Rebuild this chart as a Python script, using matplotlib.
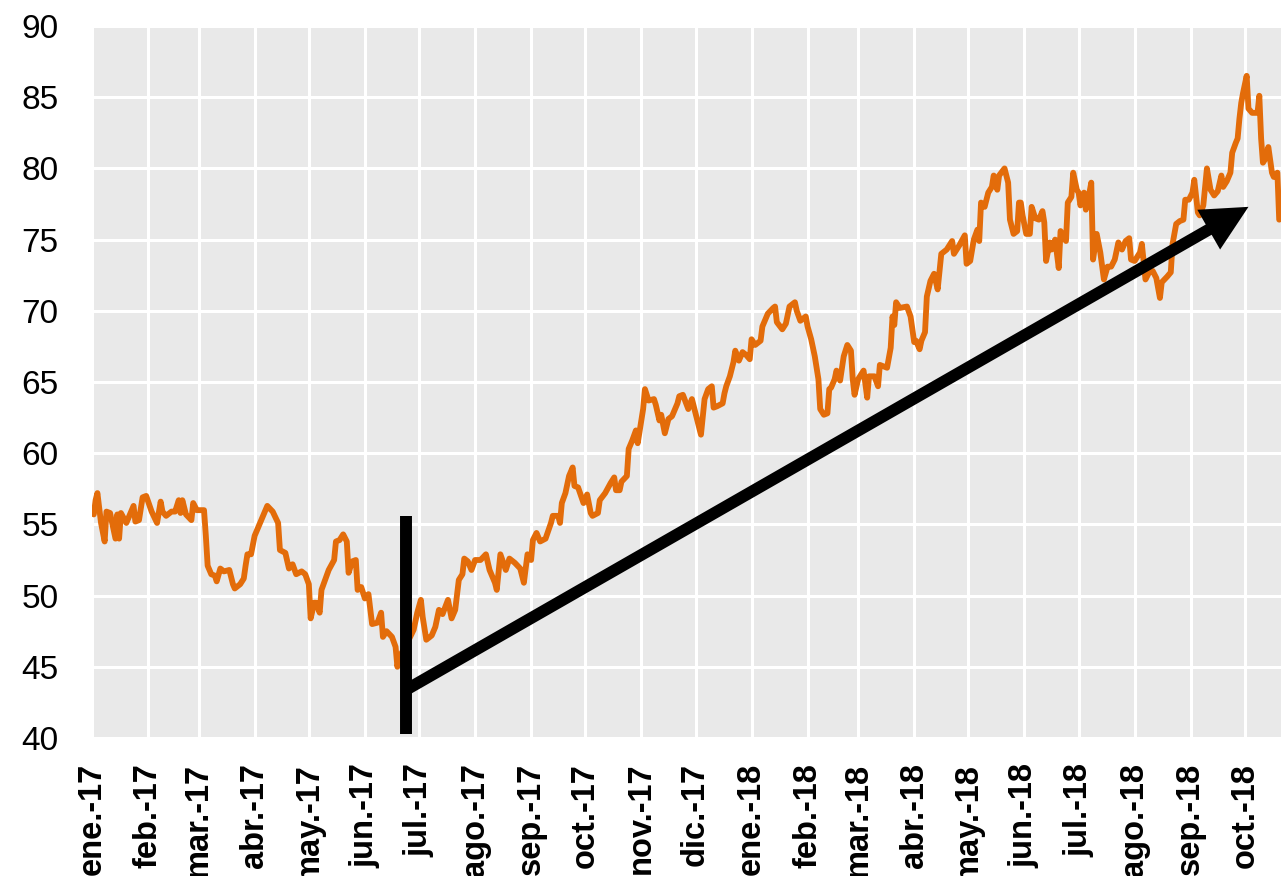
import matplotlib
matplotlib.use("Agg")
import matplotlib.pyplot as plt
import matplotlib.dates as mdates
import pandas as pd

plt.rcParams["font.family"] = ["Liberation Sans", "DejaVu Sans"]

# Brent price (USD/bbl), one line per month
brent_dates = [
    "2017-01-02", "2017-01-03", "2017-01-04", "2017-01-06", "2017-01-08", "2017-01-09", "2017-01-11", "2017-01-14", "2017-01-15", "2017-01-16", "2017-01-17", "2017-01-20", "2017-01-24", "2017-01-25", "2017-01-27", "2017-01-29", "2017-01-31",
    "2017-02-03", "2017-02-06", "2017-02-08", "2017-02-09", "2017-02-11", "2017-02-14", "2017-02-16", "2017-02-18", "2017-02-19", "2017-02-20", "2017-02-22", "2017-02-25", "2017-02-26", "2017-02-28",
    "2017-03-04", "2017-03-05", "2017-03-06", "2017-03-08", "2017-03-10", "2017-03-11", "2017-03-13", "2017-03-15", "2017-03-18", "2017-03-20", "2017-03-21", "2017-03-24", "2017-03-26", "2017-03-27", "2017-03-28", "2017-03-30",
    "2017-04-01", "2017-04-04", "2017-04-07", "2017-04-08", "2017-04-11", "2017-04-14", "2017-04-15", "2017-04-18", "2017-04-20", "2017-04-22", "2017-04-24", "2017-04-27", "2017-04-29",
    "2017-05-01", "2017-05-02", "2017-05-04", "2017-05-05", "2017-05-07", "2017-05-08", "2017-05-10", "2017-05-12", "2017-05-15", "2017-05-16", "2017-05-18", "2017-05-20", "2017-05-22", "2017-05-23", "2017-05-25", "2017-05-27", "2017-05-28", "2017-05-30",
    "2017-06-01", "2017-06-03", "2017-06-05", "2017-06-08", "2017-06-10", "2017-06-11", "2017-06-13", "2017-06-16", "2017-06-18", "2017-06-19", "2017-06-20", "2017-06-23", "2017-06-28", "2017-06-30",
    "2017-07-02", "2017-07-03", "2017-07-05", "2017-07-08", "2017-07-10", "2017-07-12", "2017-07-14", "2017-07-17", "2017-07-19", "2017-07-21", "2017-07-23", "2017-07-25", "2017-07-26", "2017-07-28", "2017-07-30",
    "2017-08-01", "2017-08-04", "2017-08-07", "2017-08-09", "2017-08-12", "2017-08-13", "2017-08-15", "2017-08-18", "2017-08-20", "2017-08-23", "2017-08-26", "2017-08-28", "2017-08-30",
    "2017-09-01", "2017-09-02", "2017-09-04", "2017-09-06", "2017-09-09", "2017-09-12", "2017-09-13", "2017-09-16", "2017-09-17", "2017-09-18", "2017-09-20", "2017-09-22", "2017-09-24", "2017-09-25", "2017-09-27", "2017-09-30",
    "2017-10-02", "2017-10-04", "2017-10-05", "2017-10-08", "2017-10-09", "2017-10-12", "2017-10-15", "2017-10-17", "2017-10-18", "2017-10-20", "2017-10-21", "2017-10-24", "2017-10-25", "2017-10-27", "2017-10-29", "2017-10-30",
    "2017-11-02", "2017-11-03", "2017-11-05", "2017-11-08", "2017-11-09", "2017-11-11", "2017-11-12", "2017-11-14", "2017-11-16", "2017-11-18", "2017-11-21", "2017-11-22", "2017-11-24", "2017-11-27", "2017-11-29",
    "2017-12-01", "2017-12-04", "2017-12-06", "2017-12-08", "2017-12-10", "2017-12-11", "2017-12-13", "2017-12-16", "2017-12-17", "2017-12-18", "2017-12-20", "2017-12-22", "2017-12-23", "2017-12-25", "2017-12-27", "2017-12-29", "2017-12-31",
    "2018-01-01", "2018-01-03", "2018-01-06", "2018-01-07", "2018-01-10", "2018-01-13", "2018-01-14", "2018-01-15", "2018-01-18", "2018-01-20", "2018-01-22", "2018-01-25", "2018-01-26", "2018-01-28", "2018-01-31",
    "2018-02-01", "2018-02-03", "2018-02-05", "2018-02-07", "2018-02-08", "2018-02-10", "2018-02-12", "2018-02-13", "2018-02-14", "2018-02-16", "2018-02-17", "2018-02-19", "2018-02-21", "2018-02-23", "2018-02-25", "2018-02-26", "2018-02-27",
    "2018-03-01", "2018-03-04", "2018-03-06", "2018-03-07", "2018-03-10", "2018-03-12", "2018-03-13", "2018-03-17", "2018-03-19", "2018-03-20", "2018-03-21", "2018-03-22", "2018-03-24", "2018-03-28", "2018-03-30",
    "2018-04-01", "2018-04-02", "2018-04-04", "2018-04-05", "2018-04-07", "2018-04-08", "2018-04-10", "2018-04-12", "2018-04-14", "2018-04-16", "2018-04-19", "2018-04-22", "2018-04-23", "2018-04-26", "2018-04-29", "2018-04-30",
    "2018-05-02", "2018-05-04", "2018-05-06", "2018-05-07", "2018-05-08", "2018-05-10", "2018-05-12", "2018-05-14", "2018-05-15", "2018-05-17", "2018-05-18", "2018-05-21", "2018-05-23", "2018-05-24", "2018-05-26", "2018-05-28", "2018-05-29", "2018-05-30", "2018-05-31",
    "2018-06-02", "2018-06-04", "2018-06-05", "2018-06-07", "2018-06-09", "2018-06-11", "2018-06-12", "2018-06-13", "2018-06-15", "2018-06-16", "2018-06-18", "2018-06-20", "2018-06-21", "2018-06-22", "2018-06-24", "2018-06-25", "2018-06-27", "2018-06-28", "2018-06-30",
    "2018-07-01", "2018-07-02", "2018-07-04", "2018-07-05", "2018-07-06", "2018-07-08", "2018-07-09", "2018-07-11", "2018-07-13", "2018-07-15", "2018-07-17", "2018-07-19", "2018-07-21", "2018-07-23", "2018-07-25", "2018-07-27", "2018-07-29", "2018-07-30",
    "2018-08-01", "2018-08-04", "2018-08-05", "2018-08-07", "2018-08-09", "2018-08-11", "2018-08-13", "2018-08-15", "2018-08-16", "2018-08-19", "2018-08-21", "2018-08-22", "2018-08-24", "2018-08-26", "2018-08-28", "2018-08-29", "2018-08-31",
    "2018-09-02", "2018-09-03", "2018-09-05", "2018-09-06", "2018-09-08", "2018-09-10", "2018-09-12", "2018-09-14", "2018-09-16", "2018-09-18", "2018-09-19", "2018-09-21", "2018-09-23", "2018-09-24", "2018-09-26", "2018-09-27", "2018-09-28", "2018-09-29", "2018-09-30",
    "2018-10-02", "2018-10-03", "2018-10-05", "2018-10-08", "2018-10-09", "2018-10-10", "2018-10-11", "2018-10-12", "2018-10-14", "2018-10-16", "2018-10-17", "2018-10-19", "2018-10-20",
]
brent_price = [
    55.7, 56.7, 57.2, 55.1, 53.8, 55.9, 55.8, 54.0, 55.7, 54.0, 55.8, 55.1, 56.3, 55.2, 55.3, 56.9, 57.0,
    55.9, 55.1, 56.6, 55.9, 55.6, 55.9, 55.9, 56.7, 55.8, 56.7, 55.7, 55.3, 56.5, 56.0,
    56.0, 54.2, 52.1, 51.5, 51.4, 51.0, 51.9, 51.7, 51.8, 50.8, 50.5, 50.8, 51.2, 52.1, 52.9, 52.9,
    54.2, 55.1, 56.0, 56.3, 55.9, 55.1, 53.2, 53.0, 51.9, 52.2, 51.5, 51.7, 51.5,
    50.8, 48.4, 49.5, 49.5, 48.8, 50.4, 51.1, 51.8, 52.5, 53.8, 53.9, 54.3, 53.8, 51.6, 52.4, 52.5, 50.4, 50.6,
    49.8, 50.1, 48.0, 48.1, 48.8, 47.1, 47.5, 47.1, 46.4, 45.0, 45.7, 46.3, 47.6, 48.8,
    49.7, 48.5, 46.9, 47.2, 47.8, 49.0, 48.7, 49.7, 48.4, 49.0, 51.1, 51.5, 52.6, 52.4, 51.8,
    52.5, 52.5, 52.9, 51.8, 50.9, 50.4, 52.9, 51.8, 52.6, 52.3, 51.9, 50.9, 52.9,
    52.5, 53.9, 54.4, 53.8, 54.0, 55.1, 55.6, 55.6, 55.1, 56.5, 57.2, 58.4, 59.0, 57.7, 57.6, 56.5,
    57.1, 55.8, 55.6, 55.8, 56.7, 57.2, 57.9, 58.3, 57.4, 57.4, 58.0, 58.4, 60.3, 60.9, 61.6, 60.7,
    63.1, 64.5, 63.7, 63.8, 63.4, 62.3, 62.7, 61.4, 62.4, 62.6, 63.5, 64.0, 64.1, 63.1, 63.8,
    62.8, 61.3, 63.8, 64.5, 64.7, 63.2, 63.3, 63.5, 64.2, 64.7, 65.4, 66.4, 67.2, 66.5, 67.1, 66.9, 66.6,
    68.0, 67.6, 67.9, 68.9, 69.8, 70.2, 70.3, 69.2, 68.7, 69.1, 70.3, 70.6, 70.0, 69.3, 69.6,
    68.9, 68.0, 66.8, 65.2, 63.1, 62.7, 62.8, 64.5, 64.6, 65.2, 65.8, 65.1, 66.8, 67.6, 67.2, 65.2, 64.1,
    65.2, 65.8, 63.9, 65.4, 65.4, 64.7, 66.2, 66.0, 67.4, 69.6, 69.0, 70.6, 70.2, 70.3, 69.6,
    67.8, 67.9, 67.3, 67.9, 68.5, 71.0, 72.1, 72.6, 71.5, 74.0, 74.3, 74.9, 74.0, 74.6, 75.3, 73.3,
    73.5, 75.0, 75.7, 74.9, 77.6, 77.3, 78.3, 78.7, 79.5, 78.5, 79.5, 80.0, 79.0, 76.4, 75.4, 75.6, 77.6, 77.6, 76.7,
    75.4, 75.4, 77.3, 76.5, 76.4, 77.0, 76.2, 73.5, 74.8, 74.3, 75.0, 73.0, 75.6, 75.3, 74.9, 77.6, 78.0, 79.7, 78.5,
    78.3, 77.4, 78.3, 77.1, 77.6, 79.0, 73.6, 75.4, 74.1, 72.2, 73.1, 73.1, 73.6, 74.8, 74.3, 74.9, 75.1, 73.6,
    73.5, 74.1, 74.7, 72.2, 72.7, 72.8, 72.3, 70.9, 72.0, 72.4, 72.7, 74.7, 76.1, 76.3, 76.4, 77.8, 77.8,
    78.3, 79.2, 76.9, 76.7, 77.4, 80.0, 78.5, 78.1, 78.4, 79.5, 78.7, 79.1, 79.7, 81.1, 81.8, 82.1, 83.5, 84.6, 85.3,
    86.5, 84.2, 83.9, 83.9, 85.1, 82.1, 80.4, 80.6, 81.5, 79.7, 79.4, 79.7, 76.4,
]

tick_labels = [
    "ene.-17", "feb.-17", "mar.-17", "abr.-17", "may.-17", "jun.-17",
    "jul.-17", "ago.-17", "sep.-17", "oct.-17", "nov.-17", "dic.-17",
    "ene.-18", "feb.-18", "mar.-18", "abr.-18", "may.-18", "jun.-18",
    "jul.-18", "ago.-18", "sep.-18", "oct.-18",
]
tick_dates = pd.date_range("2017-01-01", "2018-10-01", freq="MS")

# annotation: vertical marker at the June 2017 low and the trend arrow
marker_date = "2017-06-24"
marker_range = (40.3, 55.6)
arrow_from = ("2017-06-24", 43.4)
arrow_to = ("2018-10-03", 77.3)

assert len(brent_dates) == len(brent_price)

fig = plt.figure(figsize=(12.81, 8.76), dpi=100)
ax = fig.add_axes([92 / 1281, 138 / 876, 1189 / 1281, 712 / 876])
ax.set_facecolor("#e9e9e9")

ax.plot(pd.to_datetime(brent_dates), brent_price, color="#e36c0a", lw=4.2,
        solid_joinstyle="round", solid_capstyle="round", zorder=3)

mx = pd.Timestamp(marker_date)
ax.plot([mx, mx], marker_range, color="black", lw=8.6, solid_capstyle="butt", zorder=4)

x0 = mdates.date2num(pd.Timestamp(arrow_from[0]))
x1 = mdates.date2num(pd.Timestamp(arrow_to[0]))
ax.annotate("", xy=(x1, arrow_to[1]), xytext=(x0, arrow_from[1]),
            arrowprops=dict(arrowstyle="simple,head_length=3.3,head_width=3.3,tail_width=0.85",
                            mutation_scale=10, color="black", lw=0,
                            shrinkA=0, shrinkB=0),
            zorder=5)

ax.set_xlim(mdates.date2num(pd.Timestamp("2017-01-01")), mdates.date2num(pd.Timestamp("2018-10-21")))
ax.set_ylim(40, 90)
ax.set_yticks(range(40, 91, 5))
ax.set_xticks(tick_dates)
ax.set_xticklabels(tick_labels, rotation=90, fontsize=23.5, fontweight="bold",
                   va="top", ha="center")
ax.tick_params(length=0)
ax.tick_params(axis="x", pad=18)
ax.tick_params(axis="y", pad=24, labelsize=24)

ax.grid(True, color="white", lw=2.2)
ax.set_axisbelow(True)
for s in ax.spines.values():
    s.set_visible(False)

fig.savefig("out.png", dpi=100)
